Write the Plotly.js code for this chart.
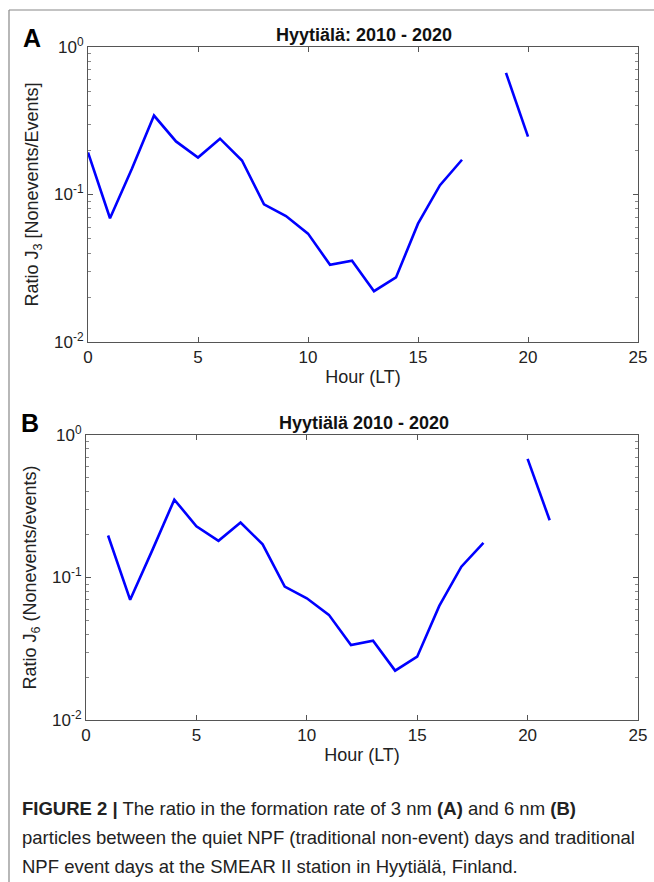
<!DOCTYPE html>
<html>
<head>
<meta charset="utf-8">
<script src="https://cdn.plot.ly/plotly-3.0.1.min.js"></script>
<style>html,body{margin:0;padding:0;background:#fff;}#chart{width:654px;height:882px;}</style>
</head>
<body>
<div id="chart"></div>
<script>
// Panel A: formation rate ratio J3 (nonevents/events)
const hoursA = [0,1,2,3,4,5,6,7,8,9,10,11,12,13,14,15,16,17,18,19,20];
const ratioJ3 = [0.193,0.069,0.15,0.343,0.229,0.178,0.239,0.170,0.0857,0.0714,0.0543,0.0334,0.0356,0.0221,0.0274,0.0634,0.1156,0.172,null,0.668,0.247];
// Panel B: formation rate ratio J6 (nonevents/events)
const hoursB = [1,2,3,4,5,6,7,8,9,10,11,12,13,14,15,16,17,18,19,20,21];
const ratioJ6 = [0.197,0.0697,0.155,0.352,0.229,0.181,0.243,0.171,0.0863,0.0715,0.0547,0.0336,0.0360,0.0222,0.0278,0.0632,0.119,0.175,null,0.680,0.252];

const xTicks = [0,5,10,15,20,25];
const yTickVals = [0.01,0.1,1];
const yTickText = ['10<sup>-2</sup>','10<sup>-1</sup>','10<sup>0</sup>'];
const yMinor = [0.02,0.03,0.04,0.05,0.06,0.07,0.08,0.09,0.2,0.3,0.4,0.5,0.6,0.7,0.8,0.9];

const FONT = 'Liberation Sans, Arial, sans-serif';
const AX = '#555555';

function xaxisDef(domain, anchor) {
  return {
    domain: domain, anchor: anchor, range: [0,25],
    tickvals: xTicks, ticks: 'inside', ticklen: 5, tickcolor: AX, tickwidth: 1,
    showline: true, linecolor: AX, linewidth: 1, mirror: 'ticks',
    showgrid: false, zeroline: false,
    tickfont: {family: FONT, size: 17, color: '#222'},
    title: {text: 'Hour (LT)', font: {family: FONT, size: 18, color: '#222'}, standoff: 3}
  };
}
function yaxisDef(domain, anchor, title) {
  return {
    domain: domain, anchor: anchor, type: 'log', range: [-2, 0],
    tickvals: yTickVals, ticktext: yTickText, ticks: 'inside', ticklen: 5, tickcolor: AX, tickwidth: 1,
    minor: {tickvals: yMinor, ticks: 'inside', ticklen: 3, tickcolor: '#888', showgrid: false},
    showline: true, linecolor: AX, linewidth: 1, mirror: 'ticks',
    showgrid: false, zeroline: false,
    tickfont: {family: FONT, size: 17, color: '#222'},
    title: {text: title, font: {family: FONT, size: 18, color: '#222'}, standoff: 10}
  };
}

const traces = [
  {x: hoursA, y: ratioJ3, xaxis: 'x', yaxis: 'y', mode: 'lines', connectgaps: false,
   line: {color: '#0000FF', width: 2.6}, showlegend: false},
  {x: hoursB, y: ratioJ6, xaxis: 'x2', yaxis: 'y2', mode: 'lines', connectgaps: false,
   line: {color: '#0000FF', width: 2.6}, showlegend: false}
];

const W = 654, H = 882;
const px = v => v / W, py = v => 1 - v / H;

const layout = {
  width: W, height: H,
  margin: {l: 0, r: 0, t: 0, b: 0},
  paper_bgcolor: '#fff', plot_bgcolor: '#fff',
  font: {family: FONT},
  xaxis: xaxisDef([px(88), px(638)], 'y'),
  yaxis: yaxisDef([py(342), py(47)], 'x', 'Ratio J<sub>3</sub> [Nonevents/Events]'),
  xaxis2: xaxisDef([px(86), px(638)], 'y2'),
  yaxis2: yaxisDef([py(720), py(435)], 'x2', 'Ratio J<sub>6</sub> (Nonevents/events)'),
  shapes: [
    {type: 'line', xref: 'paper', yref: 'paper', x0: px(9), x1: 1, y0: py(10), y1: py(10), line: {color: '#888', width: 1.2}},
    {type: 'line', xref: 'paper', yref: 'paper', x0: px(9), x1: px(9), y0: py(10), y1: 0, line: {color: '#888', width: 1.2}}
  ],
  annotations: [
    {text: '<b>A</b>', xref: 'paper', yref: 'paper', x: px(32), y: py(38), xanchor: 'center', yanchor: 'middle', showarrow: false, font: {family: FONT, size: 25, color: '#000'}},
    {text: '<b>Hyytiälä: 2010 - 2020</b>', xref: 'paper', yref: 'paper', x: px(364), y: py(35), xanchor: 'center', yanchor: 'middle', showarrow: false, font: {family: FONT, size: 18, color: '#111'}},
    {text: '<b>B</b>', xref: 'paper', yref: 'paper', x: px(30), y: py(423), xanchor: 'center', yanchor: 'middle', showarrow: false, font: {family: FONT, size: 25, color: '#000'}},
    {text: '<b>Hyytiälä 2010 - 2020</b>', xref: 'paper', yref: 'paper', x: px(364), y: py(423), xanchor: 'center', yanchor: 'middle', showarrow: false, font: {family: FONT, size: 18, color: '#111'}},
    {text: '<b>FIGURE 2 |</b> The ratio in the formation rate of 3 nm <b>(A)</b> and 6 nm <b>(B)</b>', xref: 'paper', yref: 'paper', x: px(20), y: py(808), xanchor: 'left', yanchor: 'middle', showarrow: false, align: 'left', font: {family: FONT, size: 18.5, color: '#222'}},
    {text: 'particles between the quiet NPF (traditional non-event) days and traditional', xref: 'paper', yref: 'paper', x: px(20), y: py(837), xanchor: 'left', yanchor: 'middle', showarrow: false, align: 'left', font: {family: FONT, size: 18.5, color: '#222'}},
    {text: 'NPF event days at the SMEAR II station in Hyytiälä, Finland.', xref: 'paper', yref: 'paper', x: px(20), y: py(866), xanchor: 'left', yanchor: 'middle', showarrow: false, align: 'left', font: {family: FONT, size: 18.5, color: '#222'}}
  ]
};

Plotly.newPlot('chart', traces, layout, {staticPlot: true, displayModeBar: false});
</script>
</body>
</html>
